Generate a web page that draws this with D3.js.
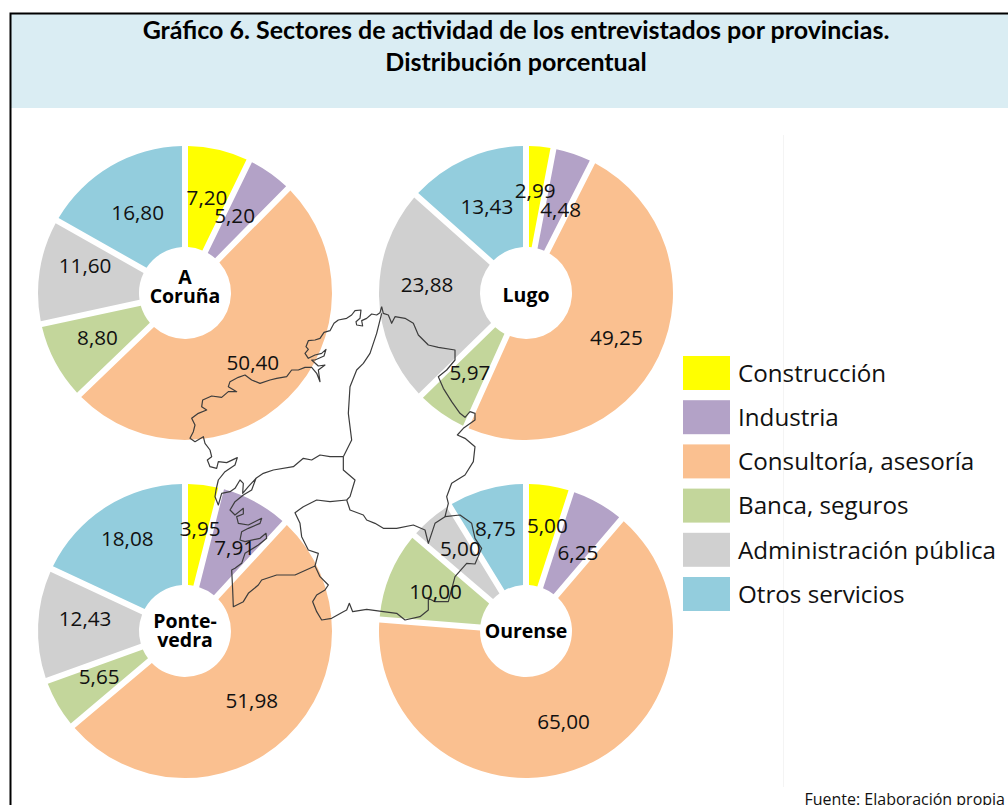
<!DOCTYPE html>
<html><head><meta charset="utf-8">
<script src="https://cdn.jsdelivr.net/npm/d3@7/dist/d3.min.js"></script>
<style>html,body{margin:0;padding:0;background:#fff;overflow:hidden}svg{display:block}</style>
</head><body><svg id="c" width="1008" height="805"></svg>
<script>
const titleLines = ["Gráfico 6. Sectores de actividad de los entrevistados por provincias.", "Distribución porcentual"];
const source = "Fuente: Elaboración propia";
const sectors = ["Construcción","Industria","Consultoría, asesoría","Banca, seguros","Administración pública","Otros servicios"];
const palette = ["#FFFF00","#B3A2C7","#FAC090","#C3D69B","#D0D0D0","#93CDDD"];
const provinces = [["A","Coruña"],["Lugo"],["Ponte-","vedra"],["Ourense"]];
const aCoruna = [7.20,5.20,50.40,8.80,11.60,16.80];
const lugo = [2.99,4.48,49.25,5.97,23.88,13.43];
const pontevedra = [3.95,7.91,51.98,5.65,12.43,18.08];
const ourense = [5.00,6.25,65.00,10.00,5.00,8.75];
const seriesList = [aCoruna,lugo,pontevedra,ourense];
// Hand-placed label offsets from the automatic centroid position
const labelNudge = [
  [[0,3],[-7,6],[-1,3],[-1,1],[-3,-10],[2,7]],
  [[0,-2],[3,12],[2,5],[0,2],[-1,-8],[1,6]],
  [[3,-2],[3,6],[-1,2],[-1,0],[-2,-5],[-5,-7]],
  [[6,-6],[4,10],[0,3],[0,1],[-2,-5],[-4,-5]]
];
const nameNudge = [-7,2,-1,0];
// Map outline of Galicia, traced in a 1020x1080 reference frame
const mapOuter = [[605,50],[600,68],[590,75],[575,72],[560,85],[545,92],[548,108],[530,105],[528,95],[540,85],[543,60],[525,62],[515,75],[500,85],[475,90],[462,100],[450,122],[432,127],[420,145],[405,150],[385,152],[378,170],[385,178],[375,190],[385,205],[405,195],[425,190],[438,178],[432,198],[405,210],[395,210],[415,228],[435,225],[415,240],[420,275],[410,250],[395,232],[375,232],[355,240],[335,240],[320,260],[290,265],[270,270],[240,280],[215,270],[195,255],[175,262],[150,275],[145,290],[170,305],[145,305],[125,322],[95,318],[68,330],[65,350],[80,360],[55,370],[35,385],[45,405],[40,425],[30,445],[45,455],[70,440],[75,460],[90,480],[95,500],[82,510],[90,530],[110,535],[115,515],[140,518],[172,503],[165,525],[135,545],[115,570],[108,600],[105,620],[115,645],[125,610],[150,605],[165,595],[180,570],[190,580],[188,610],[205,590],[228,565],[215,600],[190,615],[165,635],[150,660],[165,675],[190,655],[190,672],[170,680],[175,700],[205,705],[245,685],[240,700],[205,715],[185,725],[180,750],[195,755],[240,745],[258,730],[260,745],[235,765],[195,790],[185,820],[165,835],[155,840],[158,900],[160,950],[190,935],[205,910],[235,885],[245,870],[290,855],[345,855],[405,828],[420,860],[445,885],[435,900],[410,915],[398,935],[410,965],[425,990],[455,985],[490,965],[500,960],[508,940],[518,965],[560,958],[610,965],[650,970],[675,990],[720,980],[745,960],[745,925],[765,935],[805,935],[825,860],[860,820],[885,822],[905,775],[885,745],[875,700],[840,675],[795,680],[805,640],[800,620],[815,580],[855,555],[880,515],[885,470],[855,445],[832,435],[850,415],[885,390],[885,370],[870,365],[855,382],[840,370],[815,335],[790,295],[775,260],[800,240],[825,210],[825,180],[775,172],[745,165],[715,135],[700,100],[675,85],[645,80],[635,100],[625,75],[610,70],[605,50]];
const mapLugoOurense = [[795,680],[765,700],[745,760],[735,720],[700,705],[650,715],[610,715],[585,700],[560,690],[550,675],[510,660],[500,630]];
const mapPontOurense = [[500,630],[450,635],[410,630],[370,650],[345,668],[360,700],[365,740],[385,780],[415,790],[405,828]];
const mapCorunaPont = [[228,565],[250,550],[280,540],[340,530],[370,505],[395,510],[420,495],[450,500],[490,500]];
const mapCorunaLugo = [[605,70],[590,130],[570,190],[550,220],[530,240],[510,290],[505,370],[515,450],[490,500]];
const mapPontLugo = [[490,500],[490,540],[525,570],[510,620],[500,630]];
const mapLines = [mapOuter,mapLugoOurense,mapPontOurense,mapCorunaPont,mapCorunaLugo,mapPontLugo];

const svg = d3.select("#c");
const W=1008, H=805;
const sans = "'Open Sans','Noto Sans',sans-serif";
svg.append("rect").attr("width",W).attr("height",H).attr("fill","#fff");
svg.append("rect").attr("x",11).attr("y",14).attr("width",W-11).attr("height",94).attr("fill","#DAEDF3");
svg.append("path").attr("d",`M10.5,${H}V13.5H${W}`).attr("fill","none").attr("stroke","#000").attr("stroke-width",2);
svg.selectAll(".t").data(titleLines).join("text").attr("class","t")
  .attr("x",516).attr("y",(d,i)=>39+i*32).attr("text-anchor","middle")
  .attr("font-family","Lato,Carlito,sans-serif").attr("font-weight",700).attr("font-size",25).attr("fill","#000").text(d=>d);
svg.append("line").attr("x1",783.5).attr("x2",783.5).attr("y1",135).attr("y2",787).attr("stroke","#f4f4f4");

const gridX = d3.scalePoint().domain([0,1]).range([185,526]);
const gridY = d3.scalePoint().domain([0,1]).range([293,631]);
const color = d3.scaleOrdinal().domain(sectors).range(palette);
const pie = d3.pie().sort(null);
const arc = d3.arc().innerRadius(46).outerRadius(147).padAngle(0.06).padRadius(100);
const labelArc = d3.arc().innerRadius(98).outerRadius(98);

const marks = svg.append("g");
const texts = svg.append("g");
seriesList.forEach((vals,k)=>{
  const cx=gridX(k%2), cy=gridY(k>>1);
  const arcs=pie(vals);
  marks.append("g").attr("transform",`translate(${cx},${cy})`)
    .selectAll("path").data(arcs).join("path").attr("d",arc).attr("fill",(d,i)=>palette[i]);
  const g=texts.append("g").attr("transform",`translate(${cx},${cy})`);
  g.selectAll("text").data(arcs).join("text")
    .attr("transform",(d,i)=>{const c=labelArc.centroid(d),n=labelNudge[k][i];return `translate(${c[0]+n[0]},${c[1]-3+n[1]})`;})
    .attr("text-anchor","middle").attr("dy","0.36em")
    .attr("font-family",sans).attr("font-size",20.7).attr("fill","#111")
    .text(d=>d.data.toFixed(2).replace(".",","));
  const name=provinces[k];
  g.selectAll(".n").data(name).join("text").attr("class","n")
    .attr("text-anchor","middle")
    .attr("y",(d,i)=>7+nameNudge[k]+(i-(name.length-1)/2)*19)
    .attr("font-family",sans).attr("font-weight",700).attr("font-size",19.5).attr("fill","#000").text(d=>d);
});

const mapX=d3.scaleLinear().domain([0,1020]).range([180,520]);
const mapY=d3.scaleLinear().domain([0,1080]).range([290,650]);
const line=d3.line().x(d=>mapX(d[0])).y(d=>mapY(d[1]));
marks.selectAll(".m").data(mapLines).join("path").attr("class","m").attr("d",line)
  .attr("fill","none").attr("stroke","#3c3c3c").attr("stroke-width",1.2).attr("stroke-linejoin","round");

const legY=d3.scalePoint().domain(sectors).range([356,577]);
const leg=svg.append("g").selectAll("g").data(sectors).join("g").attr("transform",d=>`translate(683,${legY(d)})`);
leg.append("rect").attr("width",47).attr("height",34).attr("fill",d=>color(d));
leg.append("text").attr("x",55).attr("y",17).attr("dy","0.36em").attr("font-family",sans).attr("font-size",24.2).attr("fill","#111").text(d=>d);
svg.append("text").attr("x",1005).attr("y",805).attr("text-anchor","end").attr("font-family",sans).attr("font-size",16).attr("fill","#111").text(source);
</script></body></html>
